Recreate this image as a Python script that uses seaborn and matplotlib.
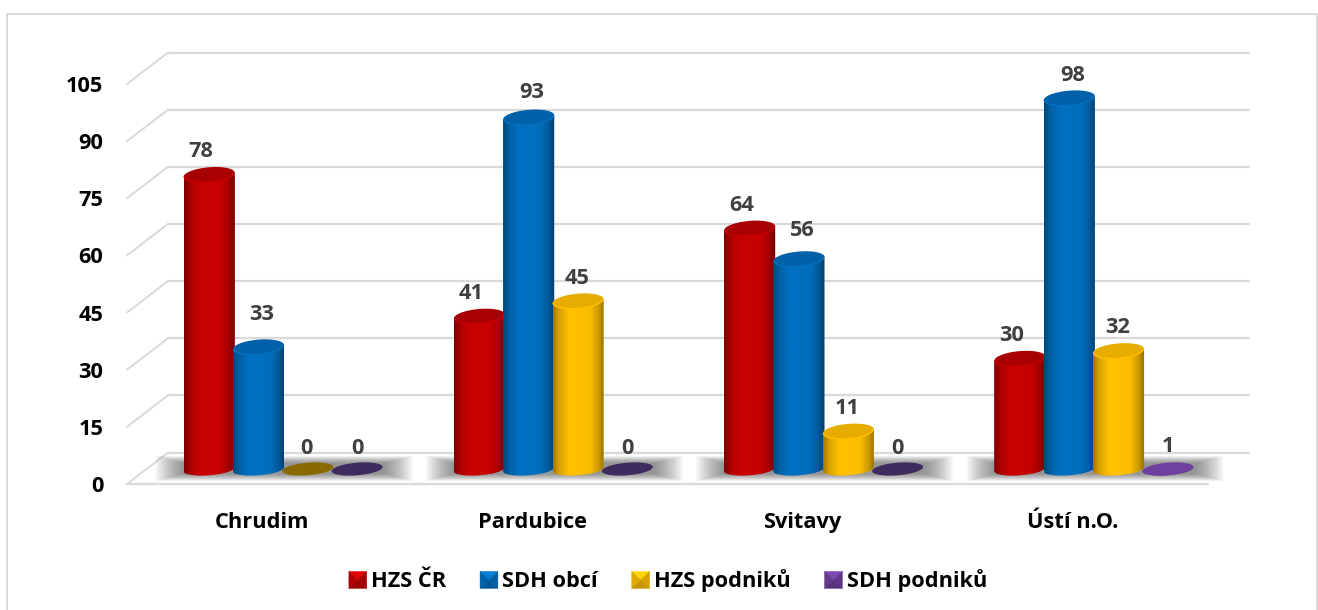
import numpy as np
import pandas as pd
import matplotlib
matplotlib.use("Agg")
import matplotlib.pyplot as plt
import seaborn as sns
from matplotlib.lines import Line2D
from matplotlib.patches import Patch, PathPatch, Polygon, Rectangle
from matplotlib.path import Path
from matplotlib.legend_handler import HandlerBase
from matplotlib.transforms import Affine2D
from matplotlib.colors import to_rgb

# ---- data ----
districts = ["Chrudim", "Pardubice", "Svitavy", "Ústí n.O."]
series = ["HZS ČR", "SDH obcí", "HZS podniků", "SDH podniků"]
hzs_cr = [78, 41, 64, 30]
sdh_obci = [33, 93, 56, 98]
hzs_podniku = [0, 45, 11, 32]
sdh_podniku = [0, 0, 0, 1]
y_ticks = [0, 15, 30, 45, 60, 75, 90, 105]

# ---- style ----
W, H = 1318, 610
colors = ["#c80000", "#0070c0", "#ffc000", "#7040a0"]
cap_colors = ["#a80000", "#0060a8", "#e6ad00", "#66399a"]
zero_colors = ["#700000", "#004070", "#8a6a00", "#3f2b5e"]
grid = "#d9d9d9"
FONT = "Open Sans"
FS = 15.7
label_dx = [-8, 3, -1, 0]
label_gap = 23
label_extra = {33: 10, 56: 6, 93: 2, 0: -2}

sns.set_theme(style="white")
plt.rcParams["font.family"] = [FONT, "DejaVu Sans"]
plt.rcParams["font.weight"] = "bold"

fig = plt.figure(figsize=(W / 100, H / 100), dpi=100, facecolor="white")

def px_axes(left, right, top, bottom):
    return fig.add_axes([left / W, 1 - bottom / H, (right - left) / W, (bottom - top) / H])

# outer chart frame
fig.add_artist(Rectangle((7 / W, -0.01), (1317 - 7) / W, 1.01 - 14 / H, transform=fig.transFigure,
                         fill=False, ec=grid, lw=1.4))

# ---- value axis and 3D wall (front plane: 0 at y=484 px, 105 at y=84 px) ----
ax = px_axes(127, 1208, 84, 484)
ax.set_xlim(-0.5, 3.5)
ax.set_ylim(0, 105)
ax.patch.set_alpha(0)
sns.despine(ax=ax, left=True, bottom=True, top=True, right=True)
depth = ax.transData + Affine2D().translate(41, 31.5)
for v in y_ticks:
    ax.add_line(Line2D([-0.5, 3.5], [v, v], transform=depth, color=grid, lw=1.6, clip_on=False))
    x_front, y_front = ax.transData.transform((-0.5, v))
    ax.add_line(Line2D([x_front, x_front + 41], [y_front, y_front + 31.5], transform=None,
                       color=grid, lw=1.4, clip_on=False))
ax.add_line(Line2D([-0.5, 3.5], [0, 0], color=grid, lw=1.6, clip_on=False))
ax.set_yticks(y_ticks)
ax.set_xticks(range(len(districts)))
ax.set_xticklabels(districts)
ax.tick_params(axis="y", length=0, pad=17, labelsize=FS, labelcolor="black")
ax.tick_params(axis="x", length=0, pad=20, labelsize=FS, labelcolor="black")
ax.set_xlabel("")
ax.set_ylabel("")

# ---- cylinders (value 0 at y=473.5 px, 3.83 px per unit, shifted right by the depth) ----
PX_Y = 3.83
PX_X = (1208 - 127) / 4
ZERO_PX = 473.5
LIFT = 4.5 / PX_Y      # flat discs and bar bases sit this far above the value zero
ax_bar = px_axes(127 + 21, 1208 + 21, 60, 490)
df = pd.DataFrame({
    "district": np.tile(districts, len(series)),
    "series": np.repeat(series, len(districts)),
    "value": hzs_cr + sdh_obci + hzs_podniku + sdh_podniku,
})
sns.barplot(data=df, x="district", y="value", hue="series", order=districts, hue_order=series,
            palette=colors, width=0.73, gap=-0.035, legend=False, saturation=1,
            errorbar=None, ax=ax_bar)
ylim = ((ZERO_PX - 490) / PX_Y, (ZERO_PX - 60) / PX_Y)
xlim = (-0.5, 3.5)
ax_bar.patch.set_alpha(0)
ax_bar.axis("off")

TILT = 0.08

def half_ellipse(xc, yc, a, b, t0, t1, n=40):
    t = np.linspace(t0, t1, n)
    return np.column_stack([
        xc + a * np.cos(t),
        yc + b * np.sin(t) + TILT * (a * PX_X) * np.cos(t) / PX_Y,
    ])

def shade(color):
    stops = np.array([0, 0.12, 0.3, 0.5, 0.72, 0.88, 1.0])
    gains = np.array([0.62, 0.85, 1.0, 1.0, 0.98, 0.8, 0.56])
    xs = np.linspace(0, 1, 128)
    g = np.interp(xs, stops, gains)[None, :, None]
    return np.clip(g * np.array(to_rgb(color))[None, None, :], 0, 1)

# floor shadow behind every group: nested translucent rectangles give a soft edge
STEPS = 18
for k in range(len(districts)):
    first = ax_bar.containers[0][k]
    last = ax_bar.containers[-1][k]
    sx0 = first.get_x() - 28 / PX_X
    sx1 = last.get_x() + last.get_width() + 30 / PX_X
    sy1, sy0 = (ZERO_PX - 456) / PX_Y, (ZERO_PX - 481) / PX_Y
    for j in range(STEPS):
        dx = j * 1.6 / PX_X
        dy = j * 0.42 / PX_Y
        ax_bar.add_patch(Rectangle((sx0 + dx, sy0 + dy), sx1 - sx0 - 2 * dx, sy1 - sy0 - 2 * dy,
                                   fc="#404040", ec="none", alpha=0.04, zorder=1.5, snap=False))

for i, container in enumerate(ax_bar.containers):
    z = 3 + i
    for bar in container:
        value = bar.get_height()
        x0, w = bar.get_x(), bar.get_width()
        xc, a = x0 + w / 2, w / 2
        bar.set_zorder(z)
        bar.set_edgecolor("none")
        tall = value >= 5
        b_top = (7.5 if tall else 6.3) / PX_Y
        b_base = 6.3 / PX_Y
        cap_y = max(value, LIFT)
        if value > 0:
            lower = half_ellipse(xc, LIFT, a, b_base, np.pi, 2 * np.pi)
            upper = half_ellipse(xc, cap_y, a, 0, 0, np.pi)
            body = Path(np.vstack([lower, upper, lower[:1]]), closed=True)
            clip = PathPatch(body, transform=ax_bar.transData, fc="none", ec="none")
            ax_bar.add_patch(clip)
            bar.set_clip_path(clip)
            image = ax_bar.imshow(shade(colors[i]),
                                  extent=[x0, x0 + w, -3 * b_base, cap_y + 3 * b_base],
                                  origin="lower", aspect="auto", interpolation="bilinear",
                                  zorder=z + 0.1)
            image.set_clip_path(clip)
        fill = (cap_colors[i] if tall else colors[i]) if value > 0 else zero_colors[i]
        cap = half_ellipse(xc, cap_y, a, b_top, 0, 2 * np.pi, 80)
        ax_bar.add_patch(Polygon(cap, closed=True, fc=fill, ec="none", zorder=z + 0.3))
        if tall:
            rim = half_ellipse(xc, cap_y, a * 0.97, b_top * 0.97, np.pi, 2 * np.pi)
            ax_bar.add_line(Line2D(rim[:, 0], rim[:, 1], color=colors[i], lw=1.0, zorder=z + 0.4))
        gap = label_gap + label_extra.get(int(value), 0)
        ax_bar.annotate(f"{value:.0f}", (xc, cap_y), xytext=(label_dx[i] * 0.72, gap * 0.72),
                        textcoords="offset points", ha="center", va="center", fontsize=FS,
                        fontweight="bold", color="#404040", zorder=20, annotation_clip=False)
ax_bar.set_xlim(*xlim)
ax_bar.set_ylim(*ylim)

# ---- legend with pyramid-shaded keys ----
class PyramidHandler(HandlerBase):
    def create_artists(self, legend, orig_handle, xd, yd, width, height, fontsize, trans):
        base = np.array(to_rgb(orig_handle.get_facecolor()))
        x0, y0 = -xd, -yd
        x1, y1 = x0 + width, y0 + height
        cx, cy = (x0 + x1) / 2, (y0 + y1) / 2
        faces = [
            ([(x0, y1), (x1, y1), (cx, cy)], 1.12),
            ([(x0, y0), (x0, y1), (cx, cy)], 0.88),
            ([(x1, y0), (x1, y1), (cx, cy)], 0.84),
            ([(x0, y0), (x1, y0), (cx, cy)], 0.78),
        ]
        return [Polygon(p, closed=True, fc=np.clip(base * g, 0, 1), ec=np.clip(base * g, 0, 1),
                        lw=0.3, transform=trans) for p, g in faces]

handles = [Patch(facecolor=c, label=s) for c, s in zip(colors, series)]
fig.legend(handles=handles, loc="center", bbox_to_anchor=(668 / W, 1 - 581 / H), ncol=4,
           frameon=False, fontsize=FS, labelcolor="black", handlelength=0.82, handleheight=0.82,
           handletextpad=0.2, columnspacing=1.55, borderpad=0, handler_map={Patch: PyramidHandler()})

fig.savefig("out.png", dpi=100, facecolor="white")
